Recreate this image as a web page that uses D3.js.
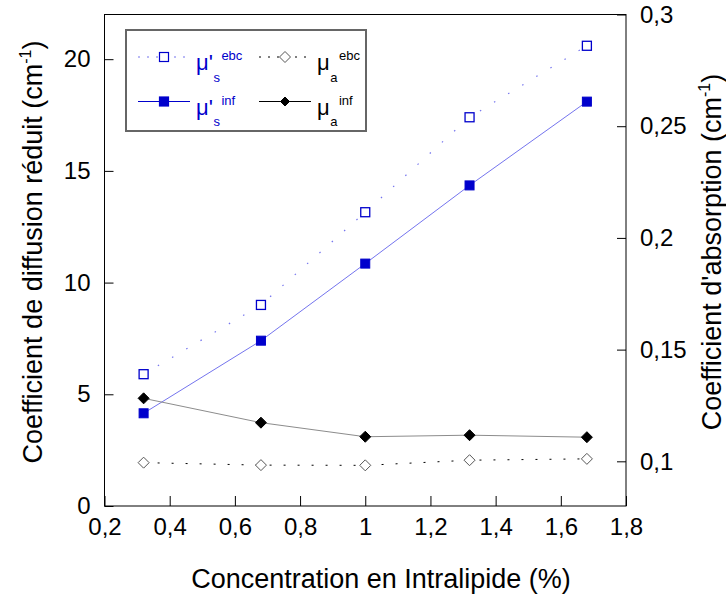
<!DOCTYPE html>
<html>
<head>
<meta charset="utf-8">
<script src="https://cdn.jsdelivr.net/npm/d3@7/dist/d3.min.js"></script>
<style>
body { margin: 0; background: #fff; }
svg text { font-family: "Liberation Sans", Arial, sans-serif; fill: #000; }
.frame { fill: none; stroke: #000; stroke-width: 1; }
.axis path { display: none; }
.axis line { stroke: #000; }
.axis text { font-size: 24px; }
.title { font-size: 27px; }
</style>
</head>
<body>
<div id="plot"></div>
<script>
// data
var concentration = [0.32, 0.68, 1.0, 1.32, 1.68];
var musEbc = [5.9, 9.0, 13.15, 17.4, 20.6];
var musInf = [4.15, 7.4, 10.85, 14.35, 18.1];
var muaEbc = [0.0994, 0.0983, 0.0982, 0.1005, 0.1011];
var muaInf = [0.1282, 0.1173, 0.1110, 0.1117, 0.1108];

var xTicks = [0.2, 0.4, 0.6, 0.8, 1.0, 1.2, 1.4, 1.6, 1.8];
var leftTicks = [0, 5, 10, 15, 20];
var rightTicks = [0.1, 0.15, 0.2, 0.25, 0.3];

var width = 726, height = 597;
var margin = {top: 14.5, right: 100, bottom: 91, left: 104.5};

var svg = d3.select('#plot').append('svg')
  .attr('width', width)
  .attr('height', height);

var x = d3.scaleLinear().domain([0.2, 1.8]).range([margin.left, width - margin.right]);
var yL = d3.scaleLinear().domain([0, 22]).range([height - margin.bottom, margin.top]);
var yR = d3.scaleLinear().domain([0.08, 0.3]).range([height - margin.bottom, margin.top]);

// comma as decimal separator
function fr(d) { return String(+d.toFixed(2)).replace('.', ','); }

var blue = '#0000cc';
var lightBlue = '#7474ee';

// axes, ticks pointing inward
svg.append('g')
  .attr('class', 'x axis')
  .attr('transform', 'translate(0,' + (height - margin.bottom) + ')')
  .call(d3.axisBottom(x).tickValues(xTicks).tickSizeInner(-10).tickSizeOuter(0).tickPadding(12).tickFormat(fr));

svg.append('g')
  .attr('class', 'y axis')
  .attr('transform', 'translate(' + margin.left + ',0)')
  .call(d3.axisLeft(yL).tickValues(leftTicks).tickSizeInner(-9).tickSizeOuter(0).tickPadding(14).tickFormat(fr));

svg.append('g')
  .attr('class', 'y axis')
  .attr('transform', 'translate(' + (width - margin.right) + ',0)')
  .call(d3.axisRight(yR).tickValues(rightTicks).tickSizeInner(-9).tickSizeOuter(0).tickPadding(14).tickFormat(fr));

svg.append('rect')
  .attr('class', 'frame')
  .attr('x', margin.left)
  .attr('y', margin.top)
  .attr('width', width - margin.right - margin.left)
  .attr('height', height - margin.bottom - margin.top);

// axis titles
svg.append('text')
  .attr('class', 'title')
  .attr('x', 381)
  .attr('y', 588)
  .attr('text-anchor', 'middle')
  .text('Concentration en Intralipide (%)');

function vTitle(cx, label) {
  var t = svg.append('text')
    .attr('class', 'title')
    .attr('text-anchor', 'middle')
    .attr('transform', 'translate(' + cx + ',' + 252 + ') rotate(-90)');
  t.append('tspan').text(label + ' (cm');
  t.append('tspan').attr('dy', -11).style('font-size', '16px').text('-1');
  t.append('tspan').attr('dy', 11).text(')');
}
vTitle(42, 'Coefficient de diffusion réduit');
vTitle(721, "Coefficient d'absorption");

// lines
function pts(vals, scale) {
  return concentration.map(function(c, i) { return [x(c), scale(vals[i])]; });
}
var line = d3.line();

svg.append('path').attr('d', line(pts(musEbc, yL)))
  .attr('fill', 'none').attr('stroke', lightBlue).attr('stroke-width', 1.2)
  .attr('stroke-dasharray', '1.5,15');
svg.append('path').attr('d', line(pts(musInf, yL)))
  .attr('fill', 'none').attr('stroke', lightBlue).attr('stroke-width', 1);
svg.append('path').attr('d', line(pts(muaEbc, yR)))
  .attr('fill', 'none').attr('stroke', '#000').attr('stroke-width', 1)
  .attr('stroke-dasharray', '2,12');
svg.append('path').attr('d', line(pts(muaInf, yR)))
  .attr('fill', 'none').attr('stroke', '#8c8c8c').attr('stroke-width', 1);

// markers
function squares(vals, filled) {
  svg.selectAll(null).data(vals).enter().append('rect')
    .attr('x', function(d, i) { return x(concentration[i]) - 4.5; })
    .attr('y', function(d) { return yL(d) - 4.5; })
    .attr('width', 9).attr('height', 9)
    .attr('fill', filled ? blue : '#fff')
    .attr('stroke', blue).attr('stroke-width', filled ? 1 : 1.3);
}
var diamond = 'M0,-5.5L5.5,0L0,5.5L-5.5,0Z';
function diamonds(vals, filled) {
  svg.selectAll(null).data(vals).enter().append('path')
    .attr('d', diamond)
    .attr('transform', function(d, i) { return 'translate(' + x(concentration[i]) + ',' + yR(d) + ')'; })
    .attr('fill', filled ? '#000' : '#fff')
    .attr('stroke', filled ? '#000' : '#555').attr('stroke-width', 1);
}
squares(musEbc, false);
squares(musInf, true);
diamonds(muaEbc, false);
diamonds(muaInf, true);

// legend
var lg = svg.append('g').attr('transform', 'translate(126,30)');
lg.append('rect').attr('width', 240).attr('height', 101)
  .attr('fill', '#fff').attr('stroke', '#666').attr('stroke-width', 2);

var legendItems = [
  {sym: "μ'", sub: 's', sup: 'ebc', color: blue, lineColor: lightBlue, dash: '2,7', col: 0, row: 0, mark: 'openSq'},
  {sym: 'μ', sub: 'a', sup: 'ebc', color: '#000', lineColor: '#000', dash: '2,7', col: 1, row: 0, mark: 'openDia'},
  {sym: "μ'", sub: 's', sup: 'inf', color: blue, lineColor: blue, dash: null, col: 0, row: 1, mark: 'fillSq'},
  {sym: 'μ', sub: 'a', sup: 'inf', color: '#000', lineColor: '#000', dash: null, col: 1, row: 1, mark: 'fillDia'}
];

legendItems.forEach(function(it) {
  var ox = 12 + it.col * 121, oy = 27 + it.row * 44.5;
  lg.append('line').attr('x1', ox).attr('x2', ox + 52).attr('y1', oy).attr('y2', oy)
    .attr('stroke', it.lineColor).attr('stroke-width', 1.2)
    .attr('stroke-dasharray', it.dash);
  var mx = ox + 26;
  if (it.mark === 'openSq' || it.mark === 'fillSq') {
    lg.append('rect').attr('x', mx - 4.5).attr('y', oy - 4.5).attr('width', 9).attr('height', 9)
      .attr('fill', it.mark === 'fillSq' ? blue : '#fff').attr('stroke', blue).attr('stroke-width', 1.2);
  } else {
    lg.append('path').attr('d', it.mark === 'fillDia' ? 'M0,-4.5L4.5,0L0,4.5L-4.5,0Z' : diamond)
      .attr('transform', 'translate(' + mx + ',' + oy + ')')
      .attr('fill', it.mark === 'fillDia' ? '#000' : '#fff')
      .attr('stroke', it.mark === 'fillDia' ? '#000' : '#555');
  }
  // symbol with subscript and superscript in one text element
  var t = lg.append('text').attr('x', ox + 58).attr('y', oy + 13)
    .style('font-size', '22px').style('fill', it.color);
  t.append('tspan').text(it.sym);
  t.append('tspan').attr('dx', 0.5).attr('dy', 11.7)
    .style('font-size', '13px').text(it.sub);
  t.append('tspan').attr('dx', 1.5).attr('dy', -21.7)
    .style('font-size', '13px').text(it.sup);
});
</script>
</body>
</html>
